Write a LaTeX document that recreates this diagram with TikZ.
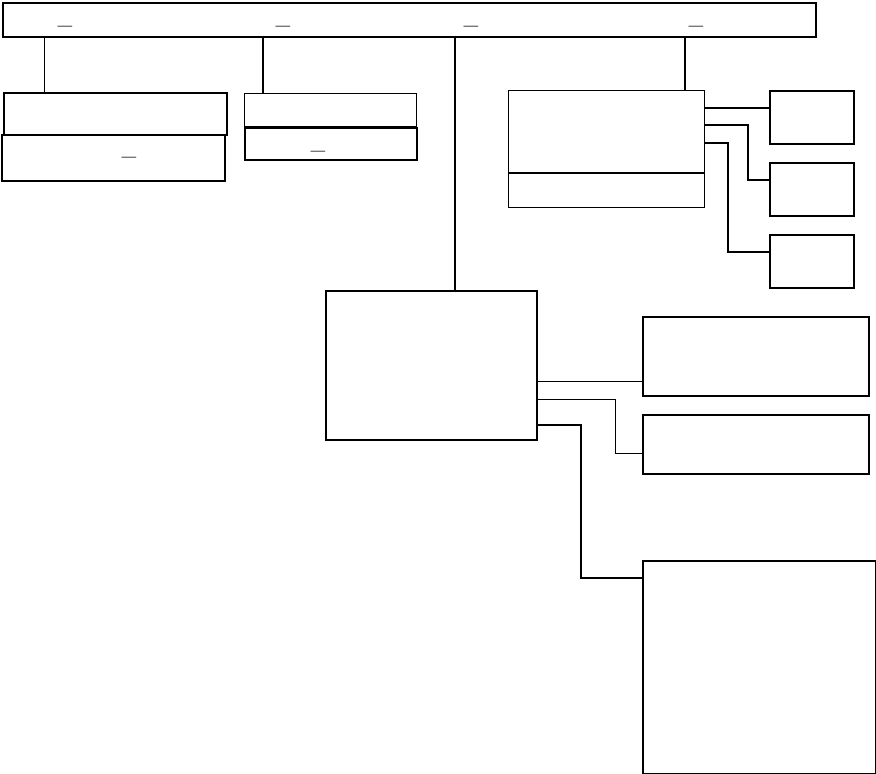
\documentclass[tikz,border=0pt]{standalone}
\usepackage{tikz}
\usetikzlibrary{positioning}

\begin{document}
\begin{tikzpicture}[
  x=1pt, y=-1pt,
  box/.style={rectangle, draw=black, fill=white, anchor=north west,
              inner sep=0pt, line width=2pt},
  thinbox/.style={box, line width=1pt},
  uscore/.style={inner sep=0pt, font=\LARGE\bfseries},
  link/.style={line width=2pt},
  thinlink/.style={line width=1pt},
  node distance=0pt
]
\useasboundingbox (0,0) rectangle (876,774);

% top bar
\node[box, line width=1.5pt, minimum width=813pt, minimum height=34pt] (bar) at (2,2) {};

% left group
\node[box, minimum width=223pt, minimum height=42pt] (lfa) at (3,92) {};
\node[box, minimum width=223pt, minimum height=46pt] (lfb) at (1,134) {};
\node[thinbox, minimum width=172pt, minimum height=33pt] (mda) at (244,93) {};
\node[thinbox, line width=1.5pt, minimum width=172pt, minimum height=32pt, below=of mda.south west, anchor=north west] (mdb) {};

% right group
\node[thinbox, minimum width=196pt, minimum height=82pt] (rta) at (508,90) {};
\node[thinbox, minimum width=196pt, minimum height=34pt, below=of rta.south west, anchor=north west] (rtb) {};
\node[box, minimum width=84pt, minimum height=53pt] (sma) at (769,90) {};
\node[box, minimum width=84pt, minimum height=53pt] (smb) at (769,162) {};
\node[box, minimum width=84pt, minimum height=53pt] (smc) at (769,234) {};

% centre group
\node[box, minimum width=211pt, minimum height=149pt] (cen) at (325,290) {};
\node[box, minimum width=226pt, minimum height=79pt] (ora) at (642,316) {};
\node[box, minimum width=226pt, minimum height=59pt] (orb) at (642,414) {};
\node[box, minimum width=233pt, minimum height=213pt] (orc) at (642,560) {};

% underscores
\node[uscore] (ua) at (65,26) {\_};
\node[uscore] (ub) at (283,26) {\_};
\node[uscore] (uc) at (471,26) {\_};
\node[uscore] (ud) at (696,26) {\_};
\node[uscore] (ue) at (129,157) {\_};
\node[uscore] (uf) at (318,151) {\_};

% links from top bar
\draw[thinlink] ([xshift=41pt]lfa.north west) -- ([xshift=41pt]lfa.north west |- bar.south);
\draw[link] ([xshift=19pt]mda.north west) -- ([xshift=19pt]mda.north west |- bar.south);
\draw[link] ([xshift=23.5pt]cen.north) -- ([xshift=23.5pt]cen.north |- bar.south);
\draw[link] ([xshift=177pt]rta.north west) -- ([xshift=177pt]rta.north west |- bar.south);

% links right group
\draw[link] ([yshift=-18pt]rta.north east) -- ([yshift=-18pt]rta.north east -| sma.west);
\draw[link] ([yshift=-35pt]rta.north east) -- ++(43pt,0) |- ([yshift=-18pt]smb.north west);
\draw[link] ([yshift=-53pt]rta.north east) -- ++(23pt,0) |- ([yshift=-18pt]smc.north west);

% links centre group
\draw[thinlink] ([yshift=-91pt]cen.north east) -- ([yshift=-91pt]cen.north east -| ora.west);
\draw[thinlink] ([yshift=-109pt]cen.north east) -- ++(77pt,0) |- ([yshift=-39pt]orb.north west);
\draw[link] ([yshift=-135pt]cen.north east) -- ++(43pt,0) |- ([yshift=-18pt]orc.north west);
\end{tikzpicture}
\end{document}
